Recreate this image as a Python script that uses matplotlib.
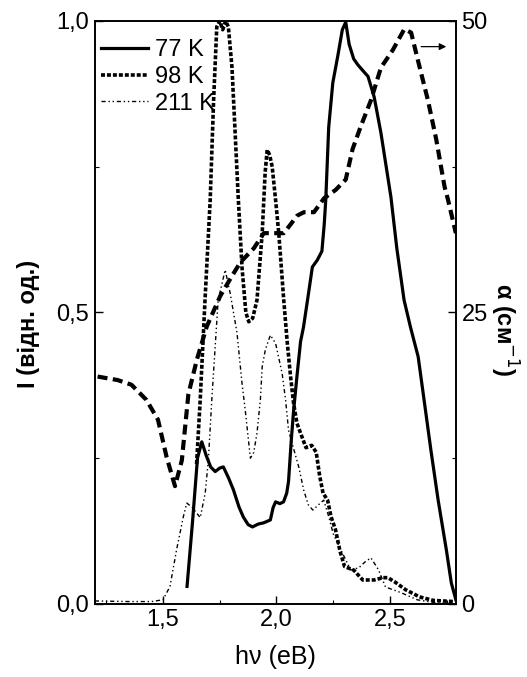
#!/usr/bin/env python3
"""Luminescence spectra at 77/98/211 K with the absorption curve on a second axis."""

import matplotlib

matplotlib.use("Agg")
import matplotlib.pyplot as plt
from matplotlib.ticker import FixedLocator, FuncFormatter, MultipleLocator

# photoluminescence, 77 K
e_77 = [1.606, 1.63, 1.652, 1.671, 1.69, 1.71, 1.73, 1.75, 1.766, 1.79, 1.81, 1.835,
        1.854, 1.875, 1.894, 1.92, 1.943, 1.973, 1.985, 1.996, 2.015, 2.031, 2.045,
        2.053, 2.065, 2.075, 2.09, 2.106, 2.119, 2.14, 2.158, 2.18, 2.2, 2.21, 2.217,
        2.23, 2.248, 2.27, 2.29, 2.305, 2.32, 2.34, 2.358, 2.38, 2.403, 2.43, 2.46,
        2.504, 2.53, 2.562, 2.59, 2.624, 2.65, 2.68, 2.712, 2.748, 2.77, 2.79]
i_77 = [0.03, 0.14, 0.25, 0.278, 0.255, 0.235, 0.227, 0.233, 0.235, 0.215, 0.196, 0.166,
        0.149, 0.136, 0.132, 0.137, 0.139, 0.144, 0.165, 0.175, 0.172, 0.175, 0.19,
        0.21, 0.28, 0.33, 0.39, 0.45, 0.475, 0.53, 0.578, 0.59, 0.605, 0.65, 0.693,
        0.818, 0.894, 0.94, 0.985, 0.998, 0.96, 0.935, 0.925, 0.915, 0.905, 0.87, 0.808,
        0.698, 0.61, 0.521, 0.475, 0.424, 0.35, 0.264, 0.178, 0.093, 0.036, 0.007]

# photoluminescence, 98 K
e_98 = [1.648, 1.664, 1.685, 1.708, 1.723, 1.737, 1.75, 1.763, 1.776, 1.788, 1.804,
        1.818, 1.832, 1.848, 1.865, 1.878, 1.895, 1.914, 1.937, 1.95, 1.959, 1.97, 1.981,
        1.996, 2.01, 2.032, 2.047, 2.062, 2.075, 2.09, 2.106, 2.13, 2.155, 2.175, 2.19,
        2.205, 2.225, 2.24, 2.26, 2.28, 2.3, 2.34, 2.38, 2.43, 2.47, 2.49, 2.52, 2.57,
        2.63, 2.69, 2.78]
i_98 = [0.24, 0.35, 0.52, 0.693, 0.864, 0.99, 1.0, 0.985, 1.0, 0.99, 0.92,
        0.807, 0.693, 0.578, 0.5, 0.484, 0.49, 0.521, 0.636, 0.74, 0.779, 0.77, 0.75,
        0.693, 0.636, 0.521, 0.45, 0.39, 0.345, 0.31, 0.293, 0.268, 0.272, 0.26, 0.22,
        0.19, 0.178, 0.15, 0.127, 0.09, 0.064, 0.058, 0.041, 0.041, 0.045, 0.045, 0.038,
        0.024, 0.012, 0.006, 0.004]

# photoluminescence, 211 K
e_211 = [1.2, 1.35, 1.45, 1.5, 1.531, 1.56, 1.59, 1.605, 1.63, 1.664, 1.686, 1.7, 1.715,
         1.743, 1.774, 1.796, 1.826, 1.848, 1.863, 1.885, 1.9, 1.914, 1.929, 1.937, 1.951,
         1.973, 1.996, 2.025, 2.04, 2.053, 2.077, 2.098, 2.12, 2.14, 2.16, 2.185, 2.208,
         2.23, 2.25, 2.283, 2.327, 2.363, 2.39, 2.416, 2.45, 2.48, 2.55, 2.62, 2.7, 2.78]
i_211 = [0.005, 0.004, 0.004, 0.007, 0.03, 0.093, 0.15, 0.173, 0.165, 0.148, 0.19, 0.247,
         0.35, 0.521, 0.573, 0.533, 0.465, 0.379, 0.33, 0.25, 0.26, 0.293, 0.35, 0.407,
         0.436, 0.461, 0.447, 0.395, 0.35, 0.298, 0.264, 0.235, 0.195, 0.17, 0.161, 0.17,
         0.178, 0.15, 0.12, 0.093, 0.058, 0.062, 0.072, 0.079, 0.058, 0.029, 0.019, 0.007,
         0.002, 0.0]

# absorption coefficient, right axis (cm^-1)
e_abs = [1.212, 1.3, 1.361, 1.427, 1.478, 1.516, 1.553, 1.583, 1.612, 1.65, 1.693,
         1.752, 1.8, 1.841, 1.9, 1.944, 1.973, 2.032, 2.06, 2.091, 2.121, 2.165, 2.21,
         2.26, 2.305, 2.335, 2.372, 2.416, 2.46, 2.512, 2.563, 2.593, 2.622, 2.667,
         2.704, 2.74, 2.755, 2.79]
alpha = [19.5, 19.2, 18.8, 17.5, 15.8, 12.6, 10.1, 12.3, 18.0, 21.0, 23.8,
         26.4, 28.0, 29.3, 30.5, 31.8, 31.8, 31.8, 32.5, 33.3, 33.6, 33.6, 34.8,
         35.5, 36.4, 39.0, 41.0, 43.2, 46.0, 47.5, 49.3, 49.0, 46.7, 43.2,
         39.8, 35.8, 34.7, 31.8]

plt.rcParams["font.family"] = ["Liberation Sans", "DejaVu Sans"]
plt.rcParams["font.size"] = 17


def comma(v, _pos):
    return f"{v:.1f}".replace(".", ",")


fig = plt.figure(figsize=(5.27, 6.77), dpi=100)
ax = fig.add_axes([0.180, 0.108, 0.685, 0.861])
ax2 = ax.twinx()

ax.plot(e_77, i_77, color="black", lw=2.3, ls="-", label="77 K")
ax.plot(e_98, i_98, color="black", lw=2.6, ls=(0, (1.1, 0.55)), label="98 K")
ax.plot(e_211, i_211, color="black", lw=1.0, ls=(0, (3, 2, 1, 2, 1, 2)), label="211 K")
ax2.plot(e_abs, alpha, color="black", lw=3.0, ls=(0, (2.4, 1.3)))

ax.set_xlim(1.2, 2.79)
ax.set_ylim(0, 1.0)
ax2.set_ylim(0, 50)

ax.xaxis.set_major_locator(FixedLocator([1.5, 2.0, 2.5]))
ax.xaxis.set_minor_locator(MultipleLocator(0.25))
ax.xaxis.set_major_formatter(FuncFormatter(comma))
ax.yaxis.set_major_locator(MultipleLocator(0.5))
ax.yaxis.set_minor_locator(MultipleLocator(0.25))
ax.yaxis.set_major_formatter(FuncFormatter(comma))
ax2.yaxis.set_major_locator(MultipleLocator(25))
ax2.yaxis.set_minor_locator(MultipleLocator(12.5))

for a in (ax, ax2):
    a.tick_params(which="major", direction="in", length=6, width=1, pad=4)
    a.tick_params(which="minor", direction="in", length=3, width=0.8)
    for s in a.spines.values():
        s.set_linewidth(1.2)

ax.set_xlabel("hν (eB)", fontsize=18, labelpad=10)
ax.set_ylabel("I (відн. од.)", fontsize=17, fontweight="bold")
ax.yaxis.set_label_coords(-0.152, 0.48)
ax2.set_ylabel("α (см$^{-1}$)", fontsize=17, fontweight="bold", rotation=-90, va="bottom")
ax2.yaxis.set_label_coords(1.09, 0.47)

ax2.annotate("", xy=(2.76, 47.8), xytext=(2.625, 47.8),
             arrowprops=dict(arrowstyle="-|>", color="black", lw=0.9,
                             mutation_scale=10))

ax.legend(loc="upper left", bbox_to_anchor=(-0.01, 0.985), frameon=False,
          handlelength=2.0, handletextpad=0.3, labelspacing=0.2,
          borderaxespad=0.1, borderpad=0.3, fontsize=17)

fig.savefig("out.png", dpi=100)
